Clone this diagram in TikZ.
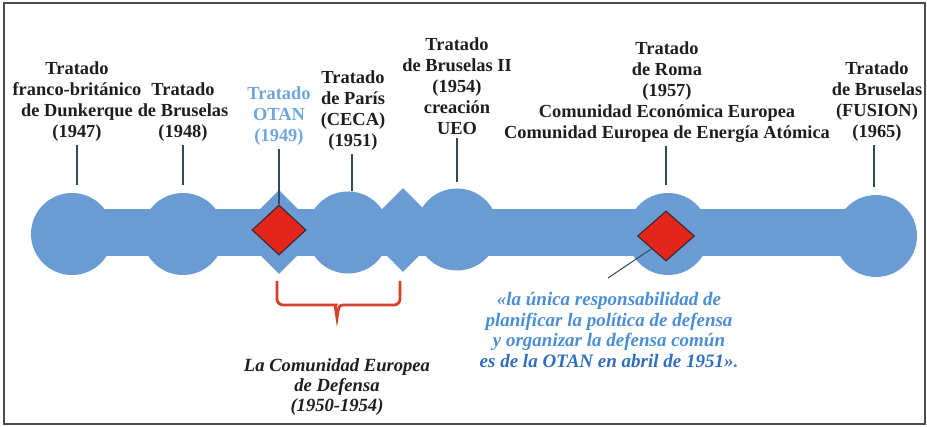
\documentclass[tikz,border=0pt]{standalone}
\usepackage{fontspec}
\setmainfont{Liberation Serif}
\usetikzlibrary{shapes.geometric}
\definecolor{bandc}{HTML}{6A9BD2}
\definecolor{redc}{HTML}{E3261C}
\definecolor{redline}{HTML}{3A2626}
\definecolor{stemc}{HTML}{2E4A5C}
\definecolor{labelc}{HTML}{1E1E1E}
\definecolor{otanc}{HTML}{6FA6DC}
\definecolor{quotec}{HTML}{4A8ED8}
\definecolor{quotedark}{HTML}{2F6DC0}
\definecolor{bracec}{HTML}{D8402C}
\definecolor{borderc}{HTML}{4A4A4A}
\begin{document}
\begin{tikzpicture}[x=1pt,y=-1pt,
  lbl/.style={align=center, inner sep=0pt, anchor=north, text=labelc,
    font=\fontsize{18.4}{21}\selectfont\bfseries},
  itl/.style={align=center, inner sep=0pt, anchor=north,
    font=\fontsize{19}{20.7}\selectfont\bfseries\itshape},
  blob/.style={circle, fill=bandc, minimum size=82pt, inner sep=0pt},
  bdiam/.style={diamond, fill=bandc, minimum width=84pt, minimum height=84pt, inner sep=0pt},
  rdiam/.style={diamond, fill=redc, draw=redline, line width=1.1pt, inner sep=0pt},
  stem/.style={draw=stemc, line width=1.2pt},
  border/.style={draw=borderc, line width=1.4pt}]
\useasboundingbox (0,0) rectangle (927,427);
\draw[border] (4,3) rectangle (925,424);

% band
\fill[bandc] (72,209.5) rectangle (876,256.5);
\node[blob] (c1) at (72,234) {};
\node[blob] (c2) at (183,234) {};
\node[bdiam] (d1) at (279,232) {};
\node[blob] (c3) at (348,232.5) {};
\node[bdiam] (d2) at (403,230) {};
\node[blob] (c4) at (457,229.5) {};
\node[blob] (c5) at (668,234) {};
\node[blob] (c6) at (876,236) {};
\node[rdiam, minimum width=54pt, minimum height=50pt] (r1) at (279,230) {};
\node[rdiam, minimum width=57pt, minimum height=50pt] (r2) at (666,236) {};

% labels
\node[lbl] (t1) at (77,62) {Tratado\\franco-británico\\de Dunkerque\\(1947)};
\node[lbl] (t2) at (183,83) {Tratado\\de Bruselas\\(1948)};
\node[lbl, text=otanc] (t3) at (279,87) {Tratado\\OTAN\\(1949)};
\node[lbl] (t4) at (353,71) {Tratado\\de París\\(CECA)\\(1951)};
\node[lbl] (t5) at (457,38) {Tratado\\de Bruselas II\\(1954)\\creación\\UEO};
\node[lbl] (t6) at (667,42) {Tratado\\de Roma\\(1957)\\Comunidad Económica Europea\\Comunidad Europea de Energía Atómica};
\node[lbl] (t7) at (877,62) {Tratado\\de Bruselas\\(FUSION)\\(1965)};

% stems
\draw[stem, shorten <=3pt, shorten >=8pt] (t1.south) -- (t1.south |- c1.north);
\draw[stem, shorten <=3pt, shorten >=8pt] (t2.south) -- (t2.south |- c2.north);
\draw[stem, shorten <=3pt] (t3.south) -- (r1.north);
\draw[stem, shorten <=3pt, shorten >=0pt] ([xshift=-1pt]t4.south) -- ([xshift=-1pt]t4.south |- c3.north);
\draw[stem, shorten <=3pt, shorten >=6pt] (t5.south) -- (t5.south |- c4.north);
\draw[stem, shorten <=3pt, shorten >=8pt] ([xshift=-1pt]t6.south) -- ([xshift=-1pt]t6.south |- c5.north);
\draw[stem, shorten <=3pt, shorten >=8pt] ([xshift=-3pt]t7.south) -- ([xshift=-3pt]t7.south |- c6.north);

% quote connector
\coordinate (qend) at (608,278);
\draw[stem, line width=1pt] (r2.south west) -- (qend);

% brace
\draw[bracec, line width=2.8pt, rounded corners=6pt]
  (277,281) -- (277,305) -- (330,305) [sharp corners] .. controls (335,305) .. (337,318)
  .. controls (339,305) .. (344,305) [rounded corners=6pt] -- (400,305) -- (400,281);

% bottom texts
\node[itl, text=labelc, font=\fontsize{18.6}{20.2}\selectfont\bfseries\itshape] (cde) at (337,358)
  {La Comunidad Europea\\de Defensa\\(1950-1954)};
\node[itl, text=quotec] (q) at (609,292)
  {«la única responsabilidad de\\planificar la política de defensa\\y organizar la defensa común\\\textcolor{quotedark}{es de la OTAN en abril de 1951»}.};
\end{tikzpicture}
\end{document}
